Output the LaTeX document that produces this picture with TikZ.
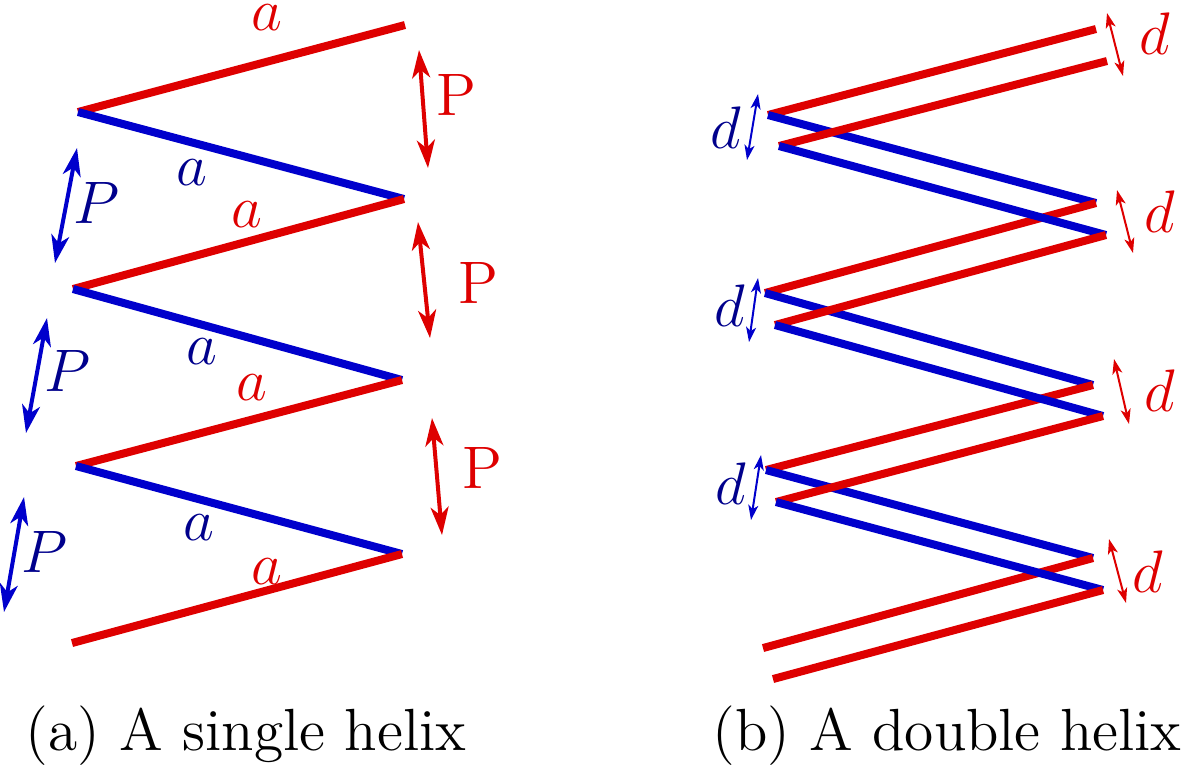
\documentclass[tikz,border=0pt]{standalone}
\usepackage{fontspec}
\usetikzlibrary{arrows.meta}
\definecolor{hred}{RGB}{222,0,0}
\definecolor{hblue}{RGB}{0,0,204}
\definecolor{hnavy}{RGB}{0,0,140}
\tikzset{
  redseg/.style={draw=hred,line width=1.6pt},
  blueseg/.style={draw=hblue,line width=1.6pt},
  bigarrow/.style={line width=0.8pt,{Stealth[length=5.6pt,width=3.6pt,inset=1.6pt]}-{Stealth[length=5.6pt,width=3.6pt,inset=1.6pt]}},
  smallarrow/.style={line width=0.4pt,{Stealth[length=3pt,width=2pt,inset=0.8pt]}-{Stealth[length=3pt,width=2pt,inset=0.8pt]}},
  lab/.style={inner sep=0pt,font=\fontsize{12}{14}\selectfont},
  redlab/.style={lab,text=hred},
  bluelab/.style={lab,text=hnavy},
  caption/.style={inner sep=0pt,anchor=base,font=\fontsize{11.9}{15}\selectfont}
}
\begin{document}
\begin{tikzpicture}[x=0.2pt,y=-0.2pt]
\useasboundingbox (0,0) rectangle (1183,765);
% ---------- (a) single helix ----------
\coordinate (L0) at (405,25);
\coordinate (L1) at (78,112);
\coordinate (L2) at (404,199);
\coordinate (L3) at (73,289);
\coordinate (L4) at (402,380);
\coordinate (L5) at (76,466);
\coordinate (L6) at (402,554);
\coordinate (L7) at (72,643);
\draw[redseg] (L0) -- (L1);
\draw[blueseg] (L1) -- (L2);
\draw[redseg] (L2) -- (L3);
\draw[blueseg] (L3) -- (L4);
\draw[redseg] (L4) -- (L5);
\draw[blueseg] (L5) -- (L6);
\draw[redseg] (L6) -- (L7);
% period arrows
\coordinate (rp1a) at (419,50);  \coordinate (rp1b) at (428,168);
\coordinate (rp2a) at (418,222); \coordinate (rp2b) at (430,338);
\coordinate (rp3a) at (432,418); \coordinate (rp3b) at (442,535);
\draw[bigarrow,hred] (rp1a) -- (rp1b);
\draw[bigarrow,hred] (rp2a) -- (rp2b);
\draw[bigarrow,hred] (rp3a) -- (rp3b);
\node[redlab] (rP1) at (456,95) {P};
\node[redlab] (rP2) at (478,283) {P};
\node[redlab] (rP3) at (482,468) {P};
\coordinate (bp1a) at (77,148); \coordinate (bp1b) at (55,263);
\coordinate (bp2a) at (47,318); \coordinate (bp2b) at (26,433);
\coordinate (bp3a) at (24,497); \coordinate (bp3b) at (4,612);
\draw[bigarrow,hblue] (bp1a) -- (bp1b);
\draw[bigarrow,hblue] (bp2a) -- (bp2b);
\draw[bigarrow,hblue] (bp3a) -- (bp3b);
\node[bluelab] (bP1) at (97,203) {$P$};
\node[bluelab] (bP2) at (68,371) {$P$};
\node[bluelab] (bP3) at (45,552) {$P$};
% length labels
\node[redlab] (ra1) at (267,18) {$a$};
\node[bluelab] (ba1) at (192,173) {$a$};
\node[redlab] (ra2) at (247,215) {$a$};
\node[bluelab] (ba2) at (202,352) {$a$};
\node[redlab] (ra3) at (252,388) {$a$};
\node[bluelab] (ba3) at (199,528) {$a$};
\node[redlab] (ra4) at (267,572) {$a$};
\node[caption] (capa) at (246,750) {(a) A single helix};
% ---------- (b) double helix ----------
\coordinate (A0) at (1096,29);
\coordinate (A1) at (768,115);
\coordinate (A2) at (1096,203);
\coordinate (A3) at (765,293);
\coordinate (A4) at (1093,385);
\coordinate (A5) at (766,470);
\coordinate (A6) at (1093,558);
\coordinate (A7) at (763,648);
\coordinate (B0) at (1107,61);
\coordinate (B1) at (779,146);
\coordinate (B2) at (1106,235);
\coordinate (B3) at (775,325);
\coordinate (B4) at (1103,416);
\coordinate (B5) at (776,502);
\coordinate (B6) at (1103,590);
\coordinate (B7) at (773,679);
\draw[redseg] (A0) -- (A1);
\draw[blueseg] (A1) -- (A2);
\draw[redseg] (A2) -- (A3);
\draw[blueseg] (A3) -- (A4);
\draw[redseg] (A4) -- (A5);
\draw[blueseg] (A5) -- (A6);
\draw[redseg] (A6) -- (A7);
\draw[redseg] (B0) -- (B1);
\draw[blueseg] (B1) -- (B2);
\draw[redseg] (B2) -- (B3);
\draw[blueseg] (B3) -- (B4);
\draw[redseg] (B4) -- (B5);
\draw[blueseg] (B5) -- (B6);
\draw[redseg] (B6) -- (B7);
% separation arrows
\coordinate (rd1a) at (1107,13);  \coordinate (rd1b) at (1123,76);
\coordinate (rd2a) at (1117,190); \coordinate (rd2b) at (1133,253);
\coordinate (rd3a) at (1114,359); \coordinate (rd3b) at (1129,424);
\coordinate (rd4a) at (1109,539); \coordinate (rd4b) at (1126,603);
\draw[smallarrow,hred] (rd1a) -- (rd1b);
\draw[smallarrow,hred] (rd2a) -- (rd2b);
\draw[smallarrow,hred] (rd3a) -- (rd3b);
\draw[smallarrow,hred] (rd4a) -- (rd4b);
\node[redlab] (rd1) at (1155,34) {$d$};
\node[redlab] (rd2) at (1160,212) {$d$};
\node[redlab] (rd3) at (1160,391) {$d$};
\node[redlab] (rd4) at (1148,572) {$d$};
\coordinate (bd1a) at (758,94);  \coordinate (bd1b) at (747,160);
\coordinate (bd2a) at (758,278); \coordinate (bd2b) at (749,342);
\coordinate (bd3a) at (761,455); \coordinate (bd3b) at (751,520);
\draw[smallarrow,hblue] (bd1a) -- (bd1b);
\draw[smallarrow,hblue] (bd2a) -- (bd2b);
\draw[smallarrow,hblue] (bd3a) -- (bd3b);
\node[bluelab] (bd1) at (726,128) {$d$};
\node[bluelab] (bd2) at (730,306) {$d$};
\node[bluelab] (bd3) at (731,484) {$d$};
\node[caption] (capb) at (947,750) {(b) A double helix};
\end{tikzpicture}
\end{document}
